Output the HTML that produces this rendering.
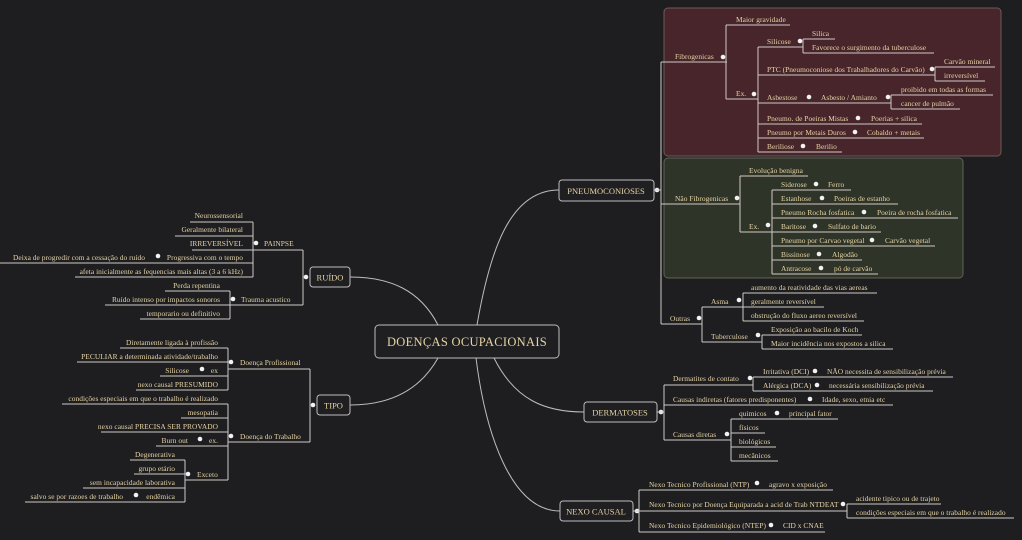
<!DOCTYPE html>
<html><head><meta charset="utf-8"><style>
html,body{margin:0;padding:0;background:#1e1e20;}
svg{display:block;}
text{font-family:"Liberation Serif",serif;fill:#e6d4a6;font-size:7.4px;letter-spacing:0.05px;}
.l{stroke:#cfc9c6;stroke-width:1;fill:none;}
.c{stroke:#bdbdbd;stroke-width:1;fill:none;}
.d{fill:#f2f2f2;}
.e{text-anchor:end;}
.n{fill:#1f1f22;stroke:#bdbdbd;stroke-width:1;}
</style></head><body>
<svg width="1022" height="540" viewBox="0 0 1022 540">
<rect width="1022" height="540" fill="#1e1e20"/>
<rect x="664" y="8" width="337" height="148" rx="4" fill="#48252a" stroke="#6d5a5a"/>
<rect x="664" y="158" width="299" height="120" rx="4" fill="#2f3428" stroke="#5d6355"/>
<path class="c" d="M477,325 C490,250 510,190 559,190"/>
<path class="c" d="M494,358 C515,400 545,412 584,412"/>
<path class="c" d="M476,358 C485,430 510,511 560,511"/>
<path class="c" d="M438,325 C420,290 390,277 350,277"/>
<path class="c" d="M438,358 C420,390 390,405 350,405"/>
<rect class="n" x="375" y="325" width="184" height="33" rx="4"/>
<text x="467" y="346" style="font-size:12.5px;letter-spacing:0.3px;text-anchor:middle">DOENÇAS OCUPACIONAIS</text>
<rect class="n" x="559" y="180" width="95" height="21" rx="3"/>
<text x="606" y="194" style="font-size:8.5px;letter-spacing:0;text-anchor:middle">PNEUMOCONIOSES</text>
<circle class="d" cx="657" cy="190" r="2.3"/>
<path class="l" d="M654,190 H661 M661,62 V324 M661,62 H727 M661,204 H740 M661,324 H702"/>
<text x="675" y="59">Fibrogenicas</text><circle class="d" cx="723" cy="57" r="2.3"/>
<path class="l" d="M726,25 V99 M726,25 H790 M726,99 H758 M758,47 V152"/>
<text x="736" y="22">Maior gravidade</text>
<text x="736" y="96">Ex.</text><circle class="d" cx="754" cy="94" r="2.3"/>
<path class="l" d="M758,47 H803 M803,39 V53 M803,39 H835 M803,53 H934"/>
<text x="767" y="44">Silicose</text><circle class="d" cx="800" cy="41" r="2.3"/>
<text x="812" y="36">Silica</text><text x="812" y="50">Favorece o surgimento da tuberculose</text>
<path class="l" d="M758,75 H935 M935,67 V81 M935,67 H995 M935,81 H985"/>
<text x="767" y="72">PTC (Pneumoconiose dos Trabalhadores do Carvão)</text><circle class="d" cx="932" cy="69" r="2.3"/>
<text x="944" y="64">Carvão mineral</text><text x="944" y="78">irreversível</text>
<path class="l" d="M758,103 H891 M891,95 V109 M891,95 H993 M891,109 H960"/>
<text x="767" y="100">Asbestose</text><circle class="d" cx="809" cy="97" r="2.3"/>
<text x="821" y="100">Asbesto / Amianto</text><circle class="d" cx="888" cy="97" r="2.3"/>
<text x="901" y="92">proibido em todas as formas</text><text x="901" y="106">cancer de pulmão</text>
<path class="l" d="M758,124 H922 M758,138 H924 M758,152 H842"/>
<text x="767" y="121">Pneumo. de Poeiras Mistas</text><circle class="d" cx="858" cy="118" r="2.3"/><text x="871" y="121">Poerias + silica</text>
<text x="767" y="135">Pneumo por Metais Duros</text><circle class="d" cx="855" cy="132" r="2.3"/><text x="867" y="135">Cobaldo + metais</text>
<text x="767" y="149">Beriliose</text><circle class="d" cx="803" cy="146" r="2.3"/><text x="816" y="149">Berilio</text>
<text x="675" y="201">Não Fibrogenicas</text><circle class="d" cx="737" cy="198" r="2.3"/>
<path class="l" d="M740,176 V232 M740,176 H808 M740,232 H772 M772,190 V274"/>
<text x="749" y="173">Evolução benigna</text>
<text x="749" y="229">Ex.</text><circle class="d" cx="768" cy="225" r="2.3"/>
<path class="l" d="M772,190 H851 M772,204 H898 M772,218 H958 M772,232 H881 M772,246 H935 M772,260 H862 M772,274 H878"/>
<text x="781" y="187">Siderose</text><circle class="d" cx="816" cy="184" r="2.3"/><text x="828" y="187">Ferro</text>
<text x="781" y="201">Estanhose</text><circle class="d" cx="822" cy="198" r="2.3"/><text x="834" y="201">Poeiras de estanho</text>
<text x="781" y="215">Pneumo Rocha fosfatica</text><circle class="d" cx="864" cy="212" r="2.3"/><text x="877" y="215">Poeira de rocha fosfatica</text>
<text x="781" y="229">Baritose</text><circle class="d" cx="815" cy="226" r="2.3"/><text x="828" y="229">Sulfato de bario</text>
<text x="781" y="243">Pneumo por Carvao vegetal</text><circle class="d" cx="872" cy="240" r="2.3"/><text x="885" y="243">Carvão vegetal</text>
<text x="781" y="257">Bissinose</text><circle class="d" cx="819" cy="254" r="2.3"/><text x="832" y="257">Algodão</text>
<text x="781" y="271">Antracose</text><circle class="d" cx="821" cy="268" r="2.3"/><text x="834" y="271">pó de carvão</text>
<text x="670" y="321">Outras</text><circle class="d" cx="699" cy="318" r="2.3"/>
<path class="l" d="M702,307 V342 M702,307 H743 M702,342 H762 M743,293 V321 M743,293 H877 M743,307 H824 M743,321 H864 M762,335 V349 M762,335 H862 M762,349 H893"/>
<text x="711" y="304">Asma</text><circle class="d" cx="739" cy="300" r="2.3"/>
<text x="751" y="290">aumento da reatividade das vias aereas</text>
<text x="751" y="304">geralmente reversível</text>
<text x="751" y="318">obstrução do fluxo aereo reversível</text>
<text x="711" y="339">Tuberculose</text><circle class="d" cx="758" cy="335" r="2.3"/>
<text x="771" y="332">Exposição ao bacilo de Koch</text>
<text x="771" y="346">Maior incidência nos expostos a silica</text>
<rect class="n" x="584" y="402" width="73" height="20" rx="3"/>
<text x="620" y="415.5" style="font-size:8.5px;letter-spacing:0;text-anchor:middle">DERMATOSES</text>
<circle class="d" cx="661" cy="412" r="2.3"/>
<path class="l" d="M657,412 H664 M664,385 V440 M664,385 H753 M664,405 H893 M664,440 H731 M753,377 V391 M753,377 H953 M753,391 H933 M731,419 V461 M731,419 H838 M731,433 H765 M731,447 H776 M731,461 H778"/>
<text x="673" y="381">Dermatites de contato</text><circle class="d" cx="750" cy="378" r="2.3"/>
<text x="763" y="374">Irritativa (DCI)</text><circle class="d" cx="815" cy="371" r="2.3"/><text x="827" y="374">NÃO necessita de sensibilização prévia</text>
<text x="763" y="388">Alérgica (DCA)</text><circle class="d" cx="817" cy="385" r="2.3"/><text x="829" y="388">necessária sensibilização prévia</text>
<text x="673" y="402">Causas indiretas (fatores predisponentes)</text><circle class="d" cx="810" cy="399" r="2.3"/><text x="822" y="402">Idade, sexo, etnia etc</text>
<text x="673" y="437">Causas diretas</text><circle class="d" cx="727" cy="434" r="2.3"/>
<text x="739" y="416">quimicos</text><circle class="d" cx="777" cy="413" r="2.3"/><text x="789" y="416">principal fator</text>
<text x="739" y="430">físicos</text><text x="739" y="444">biológicos</text><text x="739" y="458">mecânicos</text>
<rect class="n" x="560" y="501" width="73" height="20" rx="3"/>
<text x="596" y="514.5" style="font-size:8.5px;letter-spacing:0;text-anchor:middle">NEXO CAUSAL</text>
<circle class="d" cx="637" cy="511" r="2.3"/>
<path class="l" d="M633,511 H639 M639,490 V532 M639,490 H833 M639,511 H847 M639,532 H825 M847,504 V518 M847,504 H941 M847,518 H1014"/>
<text x="649" y="487">Nexo Tecnico Profissional (NTP)</text><circle class="d" cx="757" cy="483" r="2.3"/><text x="769" y="487">agravo x exposição</text>
<text x="649" y="507">Nexo Tecnico por Doença Equiparada a acid de Trab NTDEAT</text><circle class="d" cx="843" cy="504" r="2.3"/>
<text x="856" y="501">acidente tipico ou de trajeto</text><text x="856" y="515">condições especiais em que o trabalho é realizado</text>
<text x="649" y="528">Nexo Tecnico Epidemiológico (NTEP)</text><circle class="d" cx="771" cy="525" r="2.3"/><text x="783" y="528">CID x CNAE</text>
<rect class="n" x="310" y="267" width="40" height="20" rx="3"/>
<text x="330" y="280.5" style="font-size:8.5px;letter-spacing:0;text-anchor:middle">RUÍDO</text>
<circle class="d" cx="306" cy="277" r="2.3"/>
<path class="l" d="M303,250 V305 M192,250 H303 M229,305 H303 M253,222 V277 M190,222 H253 M175,236 H253 M0,263 H253 M75,277 H253 M230,291 V319 M165,291 H230 M105,305 H230 M140,319 H230"/>
<text x="264" y="246">PAINPSE</text><circle class="d" cx="256" cy="243" r="2.3"/>
<text class="e" x="243" y="218">Neurossensorial</text>
<text class="e" x="243" y="232">Geralmente bilateral</text>
<text class="e" x="243" y="246">IRREVERSÍVEL</text>
<text class="e" x="243" y="260">Progressiva com o tempo</text><circle class="d" cx="158" cy="256" r="2.3"/>
<text class="e" x="145" y="260">Deixa de progredir com a cessação do ruído</text>
<text class="e" x="243" y="274">afeta inicialmente as fequencias mais altas (3 a 6 kHz)</text>
<text x="241" y="302">Trauma acustico</text><circle class="d" cx="233" cy="299" r="2.3"/>
<text class="e" x="220" y="288">Perda repentina</text>
<text class="e" x="220" y="302">Ruído intenso por impactos sonoros</text>
<text class="e" x="220" y="316">temporario ou definitivo</text>
<rect class="n" x="317" y="395" width="33" height="20" rx="3"/>
<text x="333.5" y="408.5" style="font-size:8.5px;letter-spacing:0;text-anchor:middle">TIPO</text>
<circle class="d" cx="313" cy="405" r="2.3"/>
<path class="l" d="M310,369 V442 M228,369 H310 M228,442 H310 M228,348 V390 M120,348 H228 M77,362 H228 M160,376 H228 M136,390 H228 M228,404 V480 M62,404 H228 M181,418 H228 M101,432 H228 M156,446 H228 M185,480 H228 M185,460 V502 M130,460 H185 M134,474 H185 M83,488 H185 M25,502 H185"/>
<text x="240" y="365">Doença Profissional</text><circle class="d" cx="231" cy="362" r="2.3"/>
<text class="e" x="218" y="345">Diretamente ligada à profissão</text>
<text class="e" x="218" y="359">PECULIAR a determinada atividade/trabalho</text>
<text class="e" x="218" y="373">ex</text><circle class="d" cx="202" cy="369" r="2.3"/><text class="e" x="189" y="373">Silicose</text>
<text class="e" x="218" y="387">nexo causal PRESUMIDO</text>
<text x="240" y="439">Doença do Trabalho</text><circle class="d" cx="231" cy="436" r="2.3"/>
<text class="e" x="218" y="401">condições especiais em que o trabalho é realizado</text>
<text class="e" x="218" y="415">mesopatia</text>
<text class="e" x="218" y="429">nexo causal PRECISA SER PROVADO</text>
<text class="e" x="218" y="443">ex.</text><circle class="d" cx="200" cy="439" r="2.3"/><text class="e" x="188" y="443">Burn out</text>
<text x="197" y="477">Exceto</text><circle class="d" cx="188" cy="474" r="2.3"/>
<text class="e" x="175" y="457">Degenerativa</text>
<text class="e" x="175" y="471">grupo etário</text>
<text class="e" x="175" y="485">sem incapacidade laborativa</text>
<text class="e" x="175" y="499">endêmica</text><circle class="d" cx="136" cy="495" r="2.3"/><text class="e" x="123" y="499">salvo se por razoes de trabalho</text>
</svg>
</body></html>
